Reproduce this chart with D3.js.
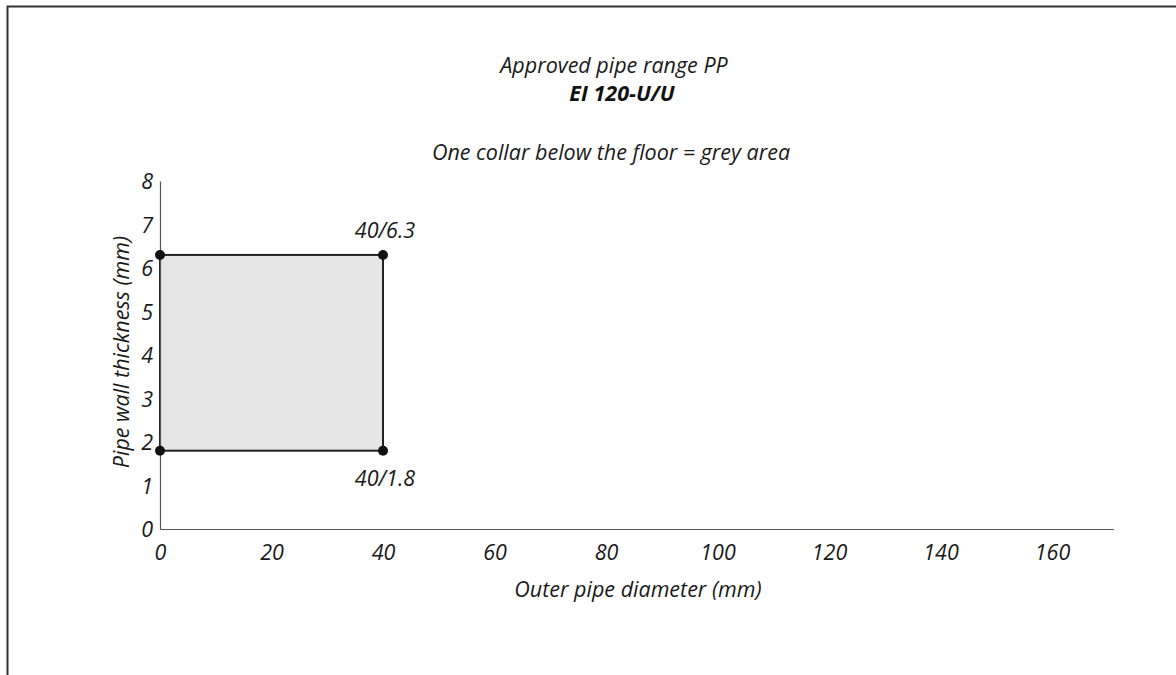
<!DOCTYPE html>
<html><head><meta charset="utf-8">
<script src="https://cdn.jsdelivr.net/npm/d3@7"></script>
<style>
html,body{margin:0;padding:0;background:#fff;}
svg{display:block;font-family:"Open Sans","Noto Sans",sans-serif;}
</style></head>
<body><svg id="c" width="1176" height="675"></svg>
<script>
const titleLines = ["Approved pipe range PP", "EI 120-U/U", "One collar below the floor = grey area"];
const xTicks = [0, 20, 40, 60, 80, 100, 120, 140, 160];
const yTicks = [0, 1, 2, 3, 4, 5, 6, 7, 8];
const areaX = [0, 40];
const areaY = [1.8, 6.3];
const cornerPoints = [[0, 6.3], [40, 6.3], [0, 1.8], [40, 1.8]];
const cornerLabels = [{x: 40, y: 6.3, text: "40/6.3", pos: "above"}, {x: 40, y: 1.8, text: "40/1.8", pos: "below"}];
const xLabel = "Outer pipe diameter (mm)";
const yLabel = "Pipe wall thickness (mm)";

const FS = 21.5;
const svg = d3.select("#c");
// frame
svg.append("path").attr("d","M7.5,675 V6.5 H1176").attr("fill","none").attr("stroke","#333").attr("stroke-width",2);

const x = d3.scaleLinear().domain([0, 171]).range([160, 1113.3]);
const y = d3.scaleLinear().domain([0, 8]).range([529, 181]);

// titles
svg.append("text").attr("x",614).attr("y",73).attr("text-anchor","middle").attr("font-style","italic").attr("font-size",FS).attr("fill","#1a1a1a").text(titleLines[0]);
svg.append("text").attr("x",622).attr("y",101).attr("text-anchor","middle").attr("font-style","italic").attr("font-weight","bold").attr("font-size",FS).attr("fill","#111").text(titleLines[1]);
svg.append("text").attr("x",611).attr("y",160).attr("text-anchor","middle").attr("font-style","italic").attr("font-size",FS).attr("fill","#1a1a1a").text(titleLines[2]);

// grey area
svg.append("rect").attr("x",x(areaX[0])).attr("y",y(areaY[1])).attr("width",x(areaX[1])-x(areaX[0])).attr("height",y(areaY[0])-y(areaY[1]))
  .attr("fill","#e6e6e6").attr("stroke","#222").attr("stroke-width",2);

// axes
const xAxis = svg.append("g").attr("transform",`translate(0,${y(0)})`).call(d3.axisBottom(x).tickValues(xTicks).tickSize(0).tickPadding(16));
const yAxis = svg.append("g").attr("transform",`translate(${x(0)},0)`).call(d3.axisLeft(y).tickValues(yTicks).tickSize(0).tickPadding(7));
[xAxis,yAxis].forEach(g=>{
  g.select(".domain").attr("stroke","#555").attr("stroke-width",1.2);
  g.selectAll("text").attr("font-family","'Open Sans','Noto Sans',sans-serif").attr("font-style","italic").attr("font-size",FS).attr("fill","#1a1a1a");
});
yAxis.selectAll("text").attr("dy","0.36em");

// points
svg.selectAll("circle.pt").data(cornerPoints).enter().append("circle").attr("class","pt")
  .attr("cx",d=>x(d[0])).attr("cy",d=>y(d[1])).attr("r",5).attr("fill","#111");

svg.selectAll("text.cl").data(cornerLabels).enter().append("text").attr("class","cl")
  .attr("x",d=>x(d.x)+2).attr("y",d=>d.pos==="above"? y(d.y)-17 : y(d.y)+35)
  .attr("text-anchor","middle").attr("font-style","italic").attr("font-size",FS).attr("fill","#1a1a1a").text(d=>d.text);

// axis titles
svg.append("text").attr("x",638).attr("y",597).attr("text-anchor","middle").attr("font-style","italic").attr("font-size",FS).attr("fill","#1a1a1a").text(xLabel);
svg.append("text").attr("transform",`translate(129,352) rotate(-90)`).attr("text-anchor","middle").attr("font-style","italic").attr("font-size",FS).attr("fill","#1a1a1a").text(yLabel);
</script></body></html>
